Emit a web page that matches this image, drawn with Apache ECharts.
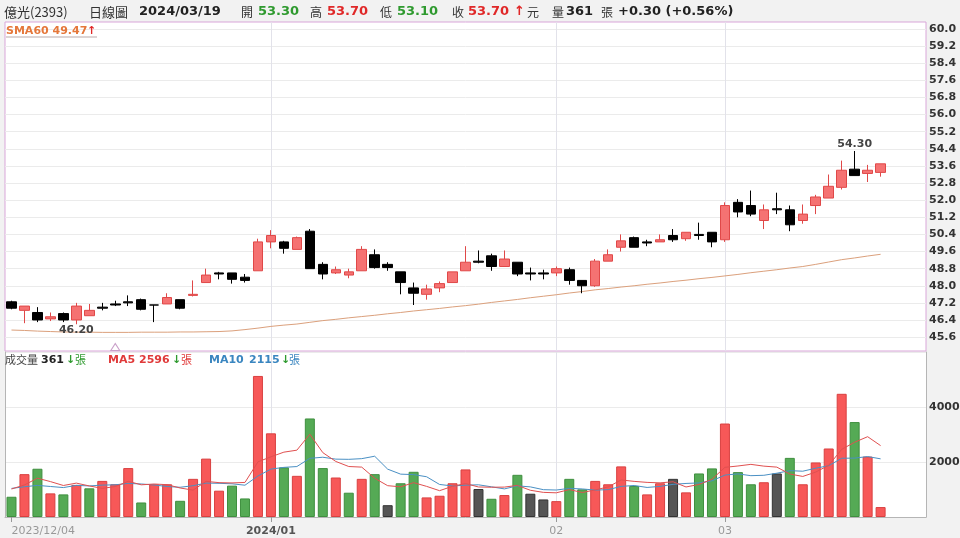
<!DOCTYPE html>
<html><head><meta charset="utf-8">
<script src="https://cdn.jsdelivr.net/npm/echarts@6/dist/echarts.min.js"></script>
<style>html,body{margin:0;padding:0;background:#f2f2f2;}#c{width:960px;height:538px;}</style>
</head><body><div id="c"></div>
<script>
const dates = ['2023/12/04','2023/12/05','2023/12/06','2023/12/07','2023/12/08','2023/12/11','2023/12/12','2023/12/13','2023/12/14','2023/12/15','2023/12/18','2023/12/19','2023/12/20','2023/12/21','2023/12/22','2023/12/25','2023/12/26','2023/12/27','2023/12/28','2023/12/29',
'2024/01/02','2024/01/03','2024/01/04','2024/01/05','2024/01/08','2024/01/09','2024/01/10','2024/01/11','2024/01/12','2024/01/15','2024/01/16','2024/01/17','2024/01/18','2024/01/19','2024/01/22','2024/01/23','2024/01/24','2024/01/25','2024/01/26','2024/01/29','2024/01/30','2024/01/31',
'2024/02/01','2024/02/02','2024/02/05','2024/02/15','2024/02/16','2024/02/19','2024/02/20','2024/02/21','2024/02/22','2024/02/23','2024/02/26','2024/02/27','2024/02/29',
'2024/03/01','2024/03/04','2024/03/05','2024/03/06','2024/03/07','2024/03/08','2024/03/11','2024/03/12','2024/03/13','2024/03/14','2024/03/15','2024/03/18','2024/03/19'];
const opens = [47.25,46.85,46.75,46.45,46.70,46.40,46.60,47.00,47.15,47.25,47.35,47.10,47.15,47.35,47.55,48.15,48.60,48.60,48.40,48.70,
50.05,50.05,49.70,50.55,49.00,48.60,48.50,48.70,49.45,49.00,48.65,47.90,47.60,47.90,48.15,48.70,49.15,49.40,48.90,49.10,
48.60,48.60,48.60,48.75,48.25,48.00,49.15,49.80,50.25,50.05,50.05,50.35,50.20,50.40,50.50,50.15,51.90,51.75,51.05,51.60,
51.55,51.05,51.75,52.10,52.60,53.45,53.25,53.30];
const highs = [47.30,47.05,47.00,46.75,46.75,47.20,47.15,47.20,47.30,47.55,47.40,47.10,47.65,47.35,48.25,48.80,48.65,48.60,48.55,50.20,
50.60,50.10,50.30,50.65,49.10,48.90,48.80,49.85,49.70,49.10,48.65,48.15,48.05,48.20,48.65,49.85,49.65,49.50,49.65,49.10,
48.85,48.75,48.90,48.85,48.25,49.25,49.70,50.40,50.30,50.15,50.40,50.65,50.50,50.95,50.50,51.90,52.05,52.45,51.80,52.35,
51.75,51.80,52.25,53.20,53.85,54.30,53.65,53.70];
const lows = [46.90,46.25,46.30,46.35,46.30,46.20,46.60,46.85,47.05,47.05,46.85,46.30,47.15,46.90,47.50,48.15,48.30,48.10,48.15,48.70,
49.75,49.50,49.70,48.80,48.30,48.55,48.35,48.70,48.80,48.70,47.60,47.10,47.35,47.70,48.15,48.70,49.05,48.70,48.90,48.45,
48.25,48.30,48.45,48.05,47.65,47.95,49.15,49.60,49.80,49.85,50.05,50.05,50.10,50.15,49.80,50.05,51.20,51.25,50.65,51.35,
50.55,50.90,51.35,52.10,52.50,53.15,52.85,53.10];
const closes = [46.95,47.05,46.40,46.55,46.40,47.05,46.85,46.95,47.10,47.20,46.90,47.10,47.45,46.95,47.60,48.50,48.55,48.30,48.25,50.05,
50.35,49.75,50.25,48.80,48.55,48.75,48.65,49.70,48.85,48.85,48.15,47.65,47.85,48.10,48.65,49.10,49.10,48.90,49.25,48.55,
48.55,48.55,48.80,48.25,48.00,49.15,49.45,50.10,49.80,50.00,50.15,50.15,50.50,50.35,50.05,51.75,51.45,51.35,51.55,51.55,
50.85,51.35,52.15,52.65,53.40,53.15,53.40,53.70];
const sma60 = [45.93,45.91,45.88,45.86,45.84,45.83,45.83,45.82,45.82,45.82,45.83,45.83,45.83,45.84,45.84,45.85,45.86,45.89,45.95,46.02,
46.10,46.16,46.21,46.29,46.37,46.43,46.50,46.56,46.62,46.69,46.75,46.82,46.88,46.94,47.01,47.07,47.14,47.22,47.29,47.36,
47.44,47.51,47.58,47.66,47.73,47.81,47.87,47.94,48.00,48.07,48.13,48.20,48.26,48.33,48.39,48.46,48.53,48.61,48.68,48.75,
48.83,48.90,49.00,49.11,49.22,49.30,49.39,49.47];
const volumes = [736,1558,1755,859,822,1166,1043,1313,1190,1779,528,1190,1190,589,1387,2123,957,1141,675,5129,
3043,1804,1497,3583,1779,1436,883,1387,1558,429,1227,1644,712,773,1227,1730,1018,663,798,1534,
847,638,577,1387,1006,1313,1190,1840,1129,822,1227,1387,896,1583,1767,3399,1632,1190,1264,1583,
2150,1190,1983,2491,4480,3452,2196,361];
const volDir = [-1,1,-1,1,-1,1,-1,1,1,1,-1,1,1,-1,1,1,1,-1,-1,1,
1,-1,1,-1,-1,1,-1,1,-1,0,-1,-1,1,1,1,1,0,-1,1,-1,
0,0,1,-1,-1,1,1,1,-1,1,1,0,1,-1,-1,1,-1,-1,1,0,
-1,1,1,1,1,-1,1,1];
const ma5 = [1018,1166,1411,1288,1146,1232,1129,1041,1107,1298,1171,1200,1175,1055,977,1296,1249,1239,1257,2005,
2189,2358,2430,3011,2341,2020,1836,1814,1409,1139,1097,1249,1114,957,1117,1217,1092,1082,1087,1149,
972,896,879,997,891,984,1095,1347,1296,1259,1242,1281,1092,1183,1372,1806,1855,1914,1850,1814,
1564,1475,1634,1879,2459,2719,2920,2596];
const ma10 = [1040,1100,1150,1110,1070,1150,1130,1160,1170,1222,1201,1165,1108,1081,1138,1233,1225,1207,1156,1491,
1742,1804,1835,2134,2173,2104,2097,2122,2210,1740,1558,1542,1464,1183,1128,1157,1171,1098,1022,1133,
1095,994,981,1042,1020,978,995,1113,1146,1075,1113,1188,1220,1239,1315,1524,1568,1503,1517,1593,
1685,1665,1774,1865,2136,2142,2198,2115];
const priceTicks = [60.0,59.2,58.4,57.6,56.8,56.0,55.2,54.4,53.6,52.8,52.0,51.2,50.4,49.6,48.8,48.0,47.2,46.4,45.6];
const volTicks = [2000,4000];
const monthLabels = {0:'2023/12/04', 20:'2024/01', 42:'02', 55:'03'};
const markerIdx = 8;
const padCats = ['', '', ''];

const cats = dates.concat(padCats);
const monthIdx = Object.keys(monthLabels).map(Number);
const lineIdx = monthIdx.filter(i => i > 0);
const RED = '#f57272', REDB = '#e04848', BLK = '#000';
const candleData = opens.map((o, i) => {
  const c = closes[i], up = c > o;
  const f = up ? RED : BLK, b = up ? REDB : BLK;
  return {value: [o, c, lows[i], highs[i]], itemStyle: {color: f, color0: f, borderColor: b, borderColor0: b}};
});
const volColors = {'1': ['#f75858', '#d94040'], '-1': ['#55aa55', '#3f8f3f'], '0': ['#555555', '#333333']};
const volData = volumes.map((v, i) => {
  const c = volColors[String(volDir[i])];
  return {value: v, itemStyle: {color: c[0], borderColor: c[1], borderWidth: 1}};
});
let hiIdx = 0, loIdx = 0;
highs.forEach((h, i) => { if (h > highs[hiIdx]) hiIdx = i; });
lows.forEach((l, i) => { if (l < lows[loIdx]) loIdx = i; });
const yMin = 44.95, yMax = 60.33;

const F = 'DejaVu Sans', CJK = '"Noto Sans CJK TC"';
function T(x, y, text, color, font) {
  return {type: 'text', x: x, y: y, z: 100, style: {text: text, fill: color, font: font, verticalAlign: 'middle', textVerticalAlign: 'middle'}};
}
const GREEN = '#2f9a2f', TRED = '#e02828';
const graphic = [
  T(4, 12, '億光(2393)', '#333', '13px ' + CJK),
  T(89, 12, '日線圖', '#333', '13px ' + CJK),
  T(139, 12, '2024/03/19', '#222', 'bold 13px ' + F),
  T(241, 12, '開', '#333', '12px ' + CJK),
  T(258, 12, '53.30', GREEN, 'bold 13px ' + F),
  T(310, 12, '高', '#333', '12px ' + CJK),
  T(327, 12, '53.70', TRED, 'bold 13px ' + F),
  T(380, 12, '低', '#333', '12px ' + CJK),
  T(397, 12, '53.10', GREEN, 'bold 13px ' + F),
  T(452, 12, '收', '#333', '12px ' + CJK),
  T(468, 12, '53.70', TRED, 'bold 13px ' + F),
  T(514, 12, '↑', TRED, 'bold 13px ' + F),
  T(527, 12, '元', '#333', '12px ' + CJK),
  T(552, 12, '量', '#333', '12px ' + CJK),
  T(566, 12, '361', '#222', 'bold 13px ' + F),
  T(601, 12, '張', '#333', '12px ' + CJK),
  T(618, 12, '+0.30 (+0.56%)', '#222', 'bold 13px ' + F),
  T(6, 31, 'SMA60 49.47', '#e5773a', 'bold 11px ' + F),
  T(87, 31, '↑', '#e02828', 'bold 11px ' + F),
  {type: 'line', z: 100, shape: {x1: 6, y1: 37, x2: 97, y2: 37}, style: {stroke: '#b9a9a9', lineWidth: 1}},
  T(5, 360, '成交量', '#444', '11px ' + CJK),
  T(41, 360, '361', '#222', 'bold 11px ' + F),
  T(66, 360, '↓', GREEN, 'bold 11px ' + F),
  T(75, 360, '張', GREEN, '11px ' + CJK),
  T(108, 360, 'MA5', '#e03a3a', 'bold 11px ' + F),
  T(139, 360, '2596', '#e03a3a', 'bold 11px ' + F),
  T(172, 360, '↓', GREEN, 'bold 11px ' + F),
  T(181, 360, '張', '#e03a3a', '11px ' + CJK),
  T(209, 360, 'MA10', '#3a86c0', 'bold 11px ' + F),
  T(249, 360, '2115', '#3a86c0', 'bold 11px ' + F),
  T(281, 360, '↓', GREEN, 'bold 11px ' + F),
  T(289, 360, '張', '#3a86c0', '11px ' + CJK)
];

const vSplit = {show: true, interval: (i) => lineIdx.includes(i), alignWithLabel: true, lineStyle: {color: '#e2e2ea', width: 1}};
const option = {
  animation: false,
  backgroundColor: '#f2f2f2',
  textStyle: {fontFamily: F},
  graphic: graphic,
  grid: [
    {left: 5, width: 921, top: 22, height: 329, show: true, backgroundColor: '#fff', borderColor: '#d9a6d9', borderWidth: 1, containLabel: false, outerBoundsMode: 'none'},
    {left: 5, width: 921, top: 352, height: 165, show: true, backgroundColor: '#fff', borderWidth: 0, containLabel: false, outerBoundsMode: 'none'}
  ],
  xAxis: [
    {type: 'category', gridIndex: 0, data: cats, boundaryGap: true, axisLine: {show: false}, axisTick: {show: false}, axisLabel: {show: false}, splitLine: vSplit},
    {type: 'category', gridIndex: 1, data: cats, boundaryGap: true,
      axisLine: {show: true, lineStyle: {color: '#b5b5b5'}},
      axisTick: {show: true, interval: (i) => monthIdx.includes(i), alignWithLabel: true, length: 5, lineStyle: {color: '#999'}},
      axisLabel: {show: true, interval: (i) => monthIdx.includes(i), alignMinLabel: 'left', margin: 9, color: '#999', fontSize: 11, fontFamily: F,
        formatter: (v, i) => i === 20 ? '{b|' + monthLabels[i] + '}' : (monthLabels[i] || ''),
        rich: {b: {fontWeight: 'bold', color: '#555', fontSize: 11, fontFamily: F}}},
      splitLine: vSplit}
  ],
  yAxis: [
    {type: 'value', gridIndex: 0, position: 'right', min: yMin, max: yMax,
      axisLine: {show: false}, axisTick: {show: false, customValues: priceTicks},
      axisLabel: {customValues: priceTicks, formatter: (v) => v.toFixed(1), color: '#333', fontWeight: 'bold', fontSize: 11, margin: 3, fontFamily: F},
      splitLine: {show: true, lineStyle: {color: '#ebebeb'}}},
    {type: 'value', gridIndex: 1, position: 'right', min: 0, max: 6000, interval: 2000,
      axisLine: {show: true, lineStyle: {color: '#b5b5b5'}}, axisTick: {show: false},
      axisLabel: {customValues: volTicks, formatter: (v) => String(Math.round(v)), color: '#333', fontWeight: 'bold', fontSize: 11, margin: 3, fontFamily: F},
      splitLine: {show: true, lineStyle: {color: '#ebebeb'}}},
    {type: 'value', gridIndex: 1, position: 'left', min: 0, max: 6000,
      axisLine: {show: true, lineStyle: {color: '#b5b5b5'}}, axisTick: {show: false}, axisLabel: {show: false}, splitLine: {show: false}}
  ],
  series: [
    {type: 'line', xAxisIndex: 0, yAxisIndex: 0, data: sma60, symbol: 'none', z: 1,
      lineStyle: {color: '#dba07c', width: 1}},
    {type: 'candlestick', xAxisIndex: 0, yAxisIndex: 0, data: candleData, barWidth: 10, z: 3,
      itemStyle: {borderWidth: 1},
      markPoint: {symbol: 'circle', symbolSize: 1, silent: true, animation: false,
        itemStyle: {color: 'rgba(0,0,0,0)'},
        data: [
          {coord: [hiIdx, highs[hiIdx]], label: {show: true, position: 'top', distance: 1, formatter: highs[hiIdx].toFixed(2), color: '#444', fontWeight: 'bold', fontSize: 11, fontFamily: F}},
          {coord: [loIdx, lows[loIdx]], label: {show: true, position: 'bottom', distance: 0, formatter: lows[loIdx].toFixed(2), color: '#444', fontWeight: 'bold', fontSize: 11, fontFamily: F}},
          {coord: [markerIdx, yMin], symbol: 'triangle', symbolSize: [9, 7], symbolOffset: [0, -4], label: {show: false},
            itemStyle: {color: '#fff', borderColor: '#c9a0c9', borderWidth: 1}}
        ]}},
    {type: 'bar', xAxisIndex: 1, yAxisIndex: 1, data: volData, barWidth: 10, z: 2},
    {type: 'line', xAxisIndex: 1, yAxisIndex: 1, data: ma10, symbol: 'none', z: 3, lineStyle: {color: '#4a90c4', width: 1}},
    {type: 'line', xAxisIndex: 1, yAxisIndex: 1, data: ma5, symbol: 'none', z: 4, lineStyle: {color: '#e05050', width: 1}}
  ]
};
const chart = echarts.init(document.getElementById('c'), null, {renderer: 'canvas'});
chart.setOption(option);
</script></body></html>
